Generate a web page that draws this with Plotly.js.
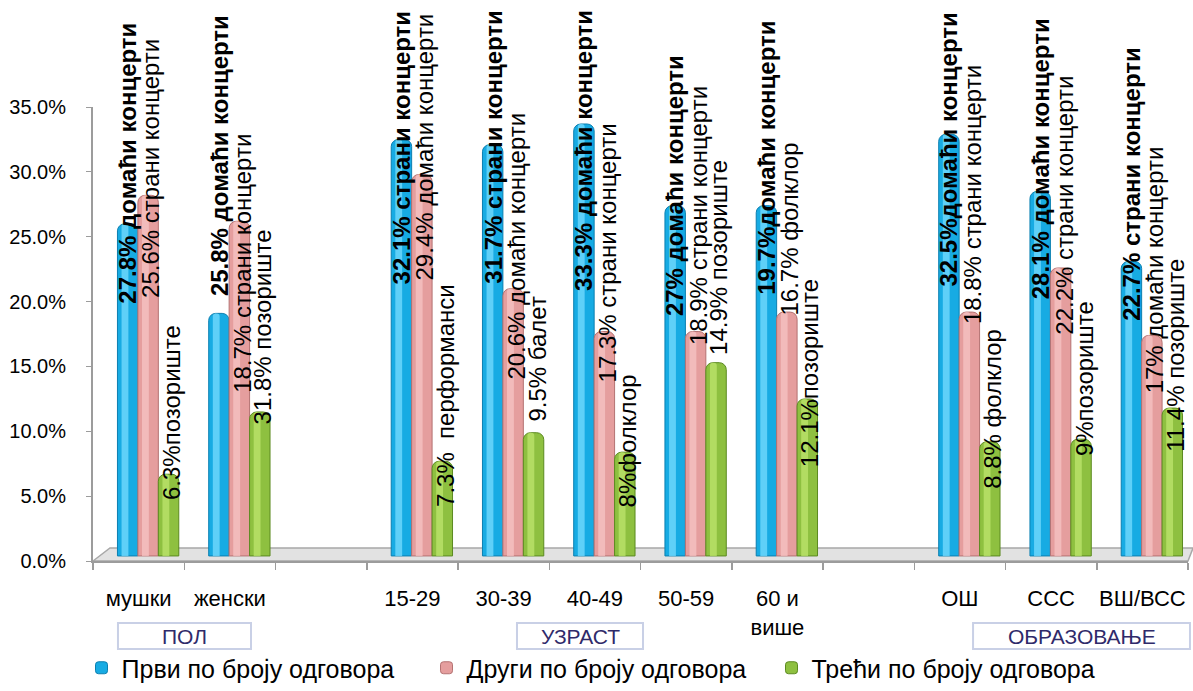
<!DOCTYPE html>
<html><head><meta charset="utf-8">
<script src="https://cdn.plot.ly/plotly-3.0.1.min.js"></script>
<style>html,body{margin:0;padding:0;background:#fff}#chart{width:1193px;height:691px}</style>
</head><body><div id="chart"></div>
<script>
// ---- data ----
const categories = ['мушки', 'женски', ' ', '15-29', '30-39', '40-49', '50-59', '60 и<br>више', '  ', 'ОШ', 'ССС', 'ВШ/ВСС'];
const seriesNames = ['Први по броју одговора', 'Други по броју одговора', 'Трећи по броју одговора'];
const firstValues  = [25.6, 18.7, null, 32.1, 31.7, 33.3, 27.0, 27.0, null, 32.5, 28.1, 22.7];
const secondValues = [27.8, 25.8, null, 29.4, 20.6, 17.3, 17.3, 18.8, null, 18.8, 22.2, 17.0];
const thirdValues  = [6.3, 11.1, null, 7.3, 9.5, 8.0, 14.9, 12.1, null, 8.8, 9.0, 11.4];
const firstLabels  = ['27.8% домаћи концерти', '25.8% домаћи концерти', '', '32.1% страни концерти', '31.7% страни концерти', '33.3% домаћи концерти', '27% домаћи концерти', '19.7%домаћи концерти', '', '32.5%домаћи концерти', '28.1% домаћи концерти', '22.7% страни концерти'];
const secondLabels = ['25.6% страни концерти', '18.7% страни концерти', '', '29.4% домаћи концерти', '20.6% домаћи концерти', '17.3% страни концерти', '18.9% страни концерти', '16.7% фолклор', '', '18.8% страни концерти', '22.2% страни концерти', '17% домаћи концерти'];
const thirdLabels  = ['6.3%позориште', '31.8% позориште', '', '7.3%\u00a0\u00a0перформанси', '9.5% балет', '8%фолклор', '14.9% позориште', '12.1%позориште', '', '8.8% фолклор', '9%позориште', '11.4% позориште'];
const groupNames = ['ПОЛ', 'УЗРАСТ', 'ОБРАЗОВАЊЕ'];
const yTickValues = [0, 5, 10, 15, 20, 25, 30, 35];

// ---- layout helpers (label placement, in axis units) ----
const labelStart1 = [19.7, 20.3, null, 21.2, 21.2, 20.7, 18.7, 20.4, null, 21.0, 20.0, 18.4];
const labelStart2 = [20.1, 12.8, null, 21.5, 13.8, 13.6, 16.5, 18.8, null, 18.1, 17.3, 12.8];
const labelStart3 = [4.55, 10.4, null, 4.0, 10.6, 4.0, 15.7, 7.1, null, 5.4, 7.9, 8.25];

const colors = ['#17ABE3', '#E59E9E', '#8EC040'];
const edges  = ['#0B7FB0', '#B47272', '#5C8A20'];
const lights = ['rgba(120,220,255,0.75)', 'rgba(248,200,200,0.7)', 'rgba(190,230,110,0.75)'];
const barWidth = 0.224;
const offsets = [-0.232, -0.008, 0.216];
const valueSets = [firstValues, secondValues, thirdValues];
const labelSets = [firstLabels, secondLabels, thirdLabels];
const startSets = [labelStart1, labelStart2, labelStart3];

const traces = valueSets.map((vals, s) => ({
  type: 'bar', x: categories, y: vals, name: seriesNames[s],
  yaxis: 'y2', width: barWidth, offset: offsets[s],
  marker: {color: colors[s], line: {color: edges[s], width: 1}, cornerradius: 7},
  hoverinfo: 'skip'
}));
// cylinder highlight (same values, narrower and lighter)
valueSets.forEach((vals, s) => {
  traces.push({
    type: 'bar', x: categories, y: vals, yaxis: 'y2', showlegend: false,
    width: 0.075, offset: offsets[s] + 0.045,
    marker: {color: lights[s], line: {width: 0}, cornerradius: 3}, hoverinfo: 'skip'
  });
});

const annotations = [];
labelSets.forEach((labels, s) => {
  labels.forEach((t, i) => {
    if (!t) return;
    const centerShift = (offsets[s] + barWidth / 2) * 91.25 + (s === 0 ? 0 : 3);
    annotations.push({
      xref: 'x', yref: 'y', x: i, y: startSets[s][i], xshift: centerShift,
      xanchor: 'center', yanchor: 'bottom', textangle: -90, showarrow: false,
      text: s === 0 ? '<b>' + t + '</b>' : t,
      font: {family: 'Liberation Sans, Arial, sans-serif', size: 24, color: '#000'}
    });
  });
});

// group boxes (paper coordinates)
const boxes = [[0.0228, 0.1443], [0.3872, 0.5023], [0.8037, 1.0018]];
const shapes = [
  {type: 'path', xref: 'paper', yref: 'paper', layer: 'below',
   path: 'M0,0 L0.0155,0.0286 L1.0046,0.0286 L1,0 Z',
   fillcolor: '#E2E2E2', line: {color: '#A8A8A8', width: 1.5}}
];
boxes.forEach((b, k) => {
  shapes.push({type: 'rect', xref: 'paper', yref: 'paper', x0: b[0], x1: b[1], y0: -0.1366, y1: -0.1938,
    fillcolor: '#fff', line: {color: '#C9D0E6', width: 2}});
  annotations.push({xref: 'paper', yref: 'paper', x: (b[0] + b[1]) / 2, y: -0.1652, xanchor: 'center', yanchor: 'middle',
    showarrow: false, text: groupNames[k], font: {family: 'Liberation Sans, Arial, sans-serif', size: 21, color: '#2F2A6A'}});
});

const layout = {
  width: 1193, height: 691,
  margin: {l: 93, r: 5, t: 107, b: 130, autoexpand: false},
  paper_bgcolor: '#fff', plot_bgcolor: 'rgba(0,0,0,0)',
  barmode: 'overlay', showlegend: true,
  font: {family: 'Liberation Sans, Arial, sans-serif', color: '#000'},
  xaxis: {type: 'category', categoryarray: categories, range: [-0.5, 11.5],
    showline: true, linecolor: '#9C9C9C', linewidth: 2,
    ticks: 'outside', tickson: 'boundaries', ticklen: 7, tickcolor: '#9C9C9C', tickwidth: 1.5,
    tickangle: 0, ticklabelstandoff: 17, tickfont: {size: 22, color: '#000'}, showgrid: false, zeroline: false, fixedrange: true},
  yaxis: {range: [0, 35], tickvals: yTickValues, ticktext: yTickValues.map(v => v.toFixed(1) + '%'),
    showline: true, linecolor: '#9C9C9C', linewidth: 2, ticks: 'outside', ticklen: 5, tickcolor: '#9C9C9C',
    ticklabelstandoff: 16, tickfont: {size: 20, color: '#000'}, showgrid: false, zeroline: false, fixedrange: true},
  yaxis2: {overlaying: 'y', range: [-0.39, 34.61], visible: false, fixedrange: true},
  legend: {orientation: 'h', x: -0.0105, xanchor: 'left', y: -0.2357, yanchor: 'middle', bgcolor: 'rgba(0,0,0,0)',
    font: {size: 25, color: '#000'}, entrywidth: 300, entrywidthmode: 'pixels', traceorder: 'normal'},
  annotations: annotations, shapes: shapes
};

Plotly.newPlot('chart', traces, layout, {staticPlot: true});
</script>
</body></html>
